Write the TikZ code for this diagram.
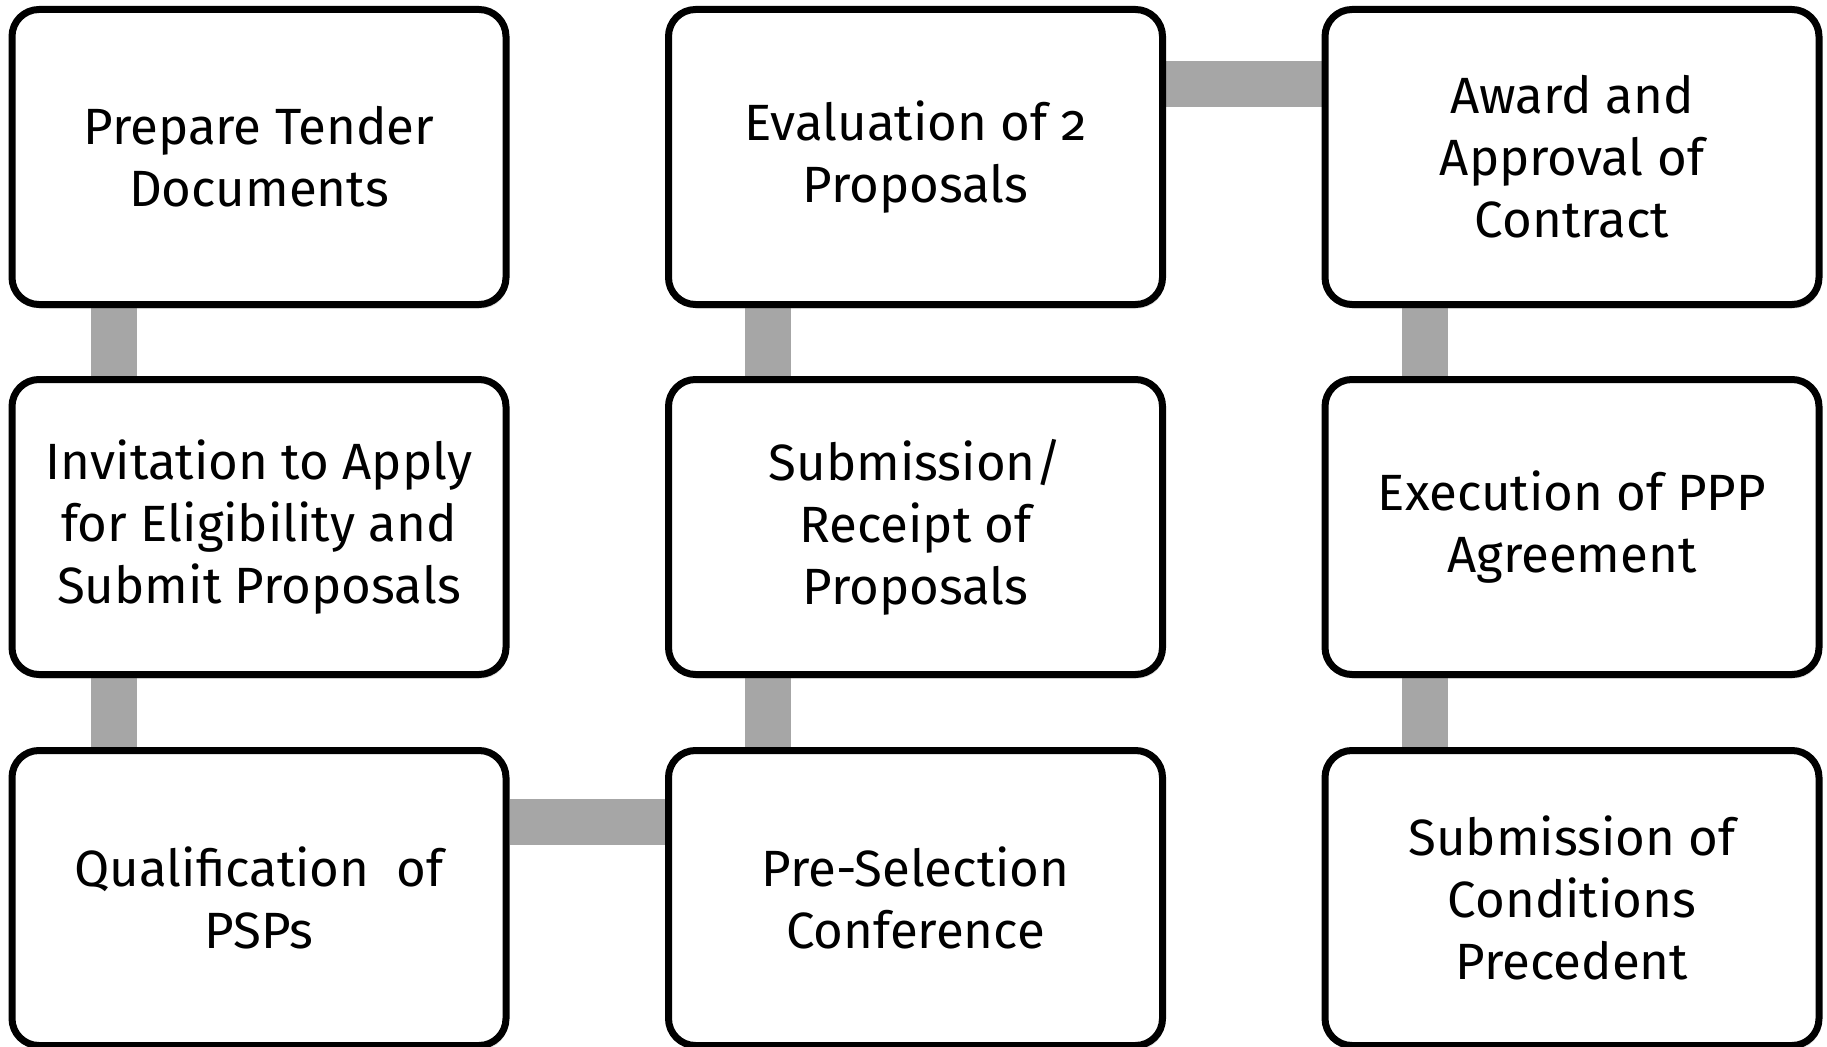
\documentclass[tikz,border=0pt]{standalone}
\usepackage{fontspec}
\setmainfont[Numbers=OldStyle]{Fira Sans}
\definecolor{linkgray}{RGB}{166, 166, 166}
\usetikzlibrary{positioning, calc, backgrounds, shadows}

\begin{document}
\begin{tikzpicture}[x=1pt, y=-1pt,
  stepbox/.style={draw=black, line width=7pt, fill=white, rounded corners=27pt,
    minimum width=494pt, minimum height=295pt, align=center, inner sep=0pt,
    font=\fontsize{51}{62}\selectfont,
    drop shadow={shadow xshift=2pt, shadow yshift=-4pt, opacity=0.25}},
  link/.style={draw=linkgray, line width=46pt}]
  \useasboundingbox (0,0) rectangle (1827,1046);

  % Column 1
  \node[stepbox] (prep) at (259, 157) {Prepare Tender\\Documents};
  \node[stepbox] (invite) at (259, 527) {Invitation to Apply\\for Eligibility and\\Submit Proposals};
  \node[stepbox] (qual) at (259, 898) {Qualification~~of\\PSPs};

  % Column 2
  \node[stepbox] (eval) at (915.5, 157) {Evaluation of 2\\Proposals};
  \node[stepbox] (submit) at (915.5, 527) {Submission/\\Receipt of\\Proposals};
  \node[stepbox] (presel) at (915.5, 898) {Pre-Selection\\Conference};

  % Column 3
  \node[stepbox] (award) at (1572, 157) {Award and\\Approval of\\Contract};
  \node[stepbox] (exec) at (1572, 527) {Execution of PPP\\Agreement};
  \node[stepbox] (cond) at (1572, 898) {Submission of\\Conditions\\Precedent};

  % Links behind the boxes
  \begin{pgfonlayer}{background}
    \draw[link] ($(prep.south west)+(105,0)$) -- ($(invite.north west)+(105,0)$);
    \draw[link] ($(invite.south west)+(105,0)$) -- ($(qual.north west)+(105,0)$);
    \draw[link] ($(qual.north east)+(0,75)$) -- ($(presel.north west)+(0,75)$);
    \draw[link] ($(presel.north west)+(103,0)$) -- ($(submit.south west)+(103,0)$);
    \draw[link] ($(submit.north west)+(103,0)$) -- ($(eval.south west)+(103,0)$);
    \draw[link] ($(eval.north east)+(0,78)$) -- ($(award.north west)+(0,78)$);
    \draw[link] ($(award.south west)+(103,0)$) -- ($(exec.north west)+(103,0)$);
    \draw[link] ($(exec.south west)+(103,0)$) -- ($(cond.north west)+(103,0)$);
  \end{pgfonlayer}
\end{tikzpicture}
\end{document}
